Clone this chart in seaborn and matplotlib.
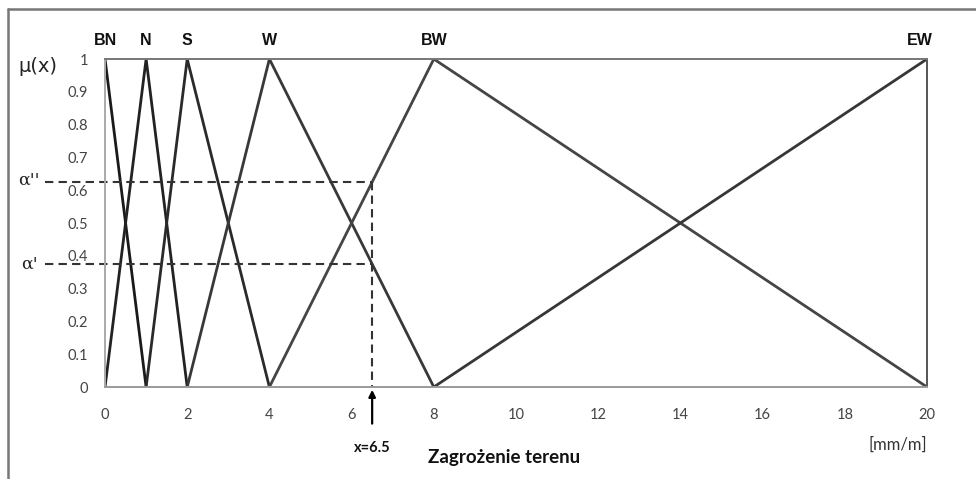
import pandas as pd
import matplotlib.pyplot as plt
import seaborn as sns
from matplotlib.lines import Line2D

# Membership functions (breakpoints, x in mm/m)
sets = ['BN', 'N', 'S', 'W', 'BW', 'EW']
bn_x = [0, 1]
bn_mu = [1, 0]
n_x = [0, 1, 2]
n_mu = [0, 1, 0]
s_x = [1, 2, 4]
s_mu = [0, 1, 0]
w_x = [2, 4, 8]
w_mu = [0, 1, 0]
bw_x = [4, 8, 20]
bw_mu = [0, 1, 0]
ew_x = [8, 20]
ew_mu = [0, 1]
peaks = [0, 1, 2, 4, 8, 20]

x_read = 6.5
alpha_hi = 0.625
alpha_lo = 0.375

xticks = list(range(0, 21, 2))
yticks = [i / 10 for i in range(11)]
ytick_labels = ['0', '0.1', '0.2', '0.3', '0.4', '0.5', '0.6', '0.7', '0.8', '0.9', '1']

# long-form table for seaborn
rows = []
for name, xs, ms in zip(sets, [bn_x, n_x, s_x, w_x, bw_x, ew_x],
                        [bn_mu, n_mu, s_mu, w_mu, bw_mu, ew_mu]):
    for i, (xv, mv) in enumerate(zip(xs, ms)):
        rows.append({'set': name, 'order': i, 'x': xv, 'mu': mv})
df = pd.DataFrame(rows)

palette = {'BN': '#1a1a1a', 'N': '#222222', 'S': '#2a2a2a',
           'W': '#383838', 'BW': '#454545', 'EW': '#363636'}

sns.set_style('white')
fig = plt.figure(figsize=(9.76, 4.79), dpi=100)
ax = fig.add_axes([0.1076, 0.192, 0.8422, 0.6848])

sns.lineplot(data=df, x='x', y='mu', hue='set', units='set', estimator=None,
             sort=False, palette=palette, linewidth=2.0, legend=False, ax=ax)

ax.set_xlim(0, 20)
ax.set_ylim(0, 1)
ax.set_xticks(xticks)
ax.set_yticks(yticks)
ax.set_yticklabels(ytick_labels)
ax.set_xlabel('')
ax.set_ylabel('')
ax.tick_params(axis='both', direction='out', length=4, width=0.8, color='#999999',
               labelsize=10.5, labelcolor='#444444')
ax.tick_params(axis='x', pad=11)
ax.tick_params(axis='y', pad=8)
for lab in ax.get_xticklabels() + ax.get_yticklabels():
    lab.set_family('Lato')

ax.spines['left'].set_color('#aaaaaa')
ax.spines['bottom'].set_color('#999999')
ax.spines['top'].set_color('#777777')
ax.spines['right'].set_color('#555555')
for sp in ax.spines.values():
    sp.set_linewidth(1.4)

# dashed guide lines (start left of the axis, in data units)
ax.plot([-1.46, x_read], [alpha_hi, alpha_hi], ls=(0, (4, 2.5)), color='#333333',
        lw=1.5, clip_on=False)
ax.plot([-1.46, x_read], [alpha_lo, alpha_lo], ls=(0, (4, 2.5)), color='#333333',
        lw=1.5, clip_on=False)
ax.plot([x_read, x_read], [alpha_hi, 0], ls=(0, (4, 2.5)), color='#333333', lw=1.5)

# arrow at x = 6.5
ax.annotate('', xy=(x_read, 0), xytext=(x_read, -0.12), xycoords='data',
            arrowprops=dict(arrowstyle='-|>', color='black', lw=1.6,
                            mutation_scale=10), annotation_clip=False)

# set names above the plot
for name, px in zip(sets, peaks):
    dx = -0.18 if name == 'EW' else 0
    ax.text(px + dx, 1.034, name, ha='center', va='bottom', fontsize=11.5,
            fontweight='bold', family='Liberation Sans', color='#111111')

ax.text(-2.12, 0.976, 'μ(x)', ha='left', va='center', fontsize=14, color='#222222',
        family='DejaVu Sans', clip_on=False)
ax.text(-2.12, alpha_hi + 0.005, "α''", ha='left', va='center', fontsize=12.5,
        color='#222222', family='DejaVu Serif', clip_on=False)
ax.text(-2.05, alpha_lo + 0.0, "α'", ha='left', va='center', fontsize=12.5,
        color='#222222', family='DejaVu Serif', clip_on=False)

ax.text(x_read, -0.185, 'x=6.5', ha='center', va='center', fontsize=10.5,
        fontweight='bold', family='Lato', color='#111111')
ax.text(7.85, -0.215, 'Zagrożenie terenu', ha='left', va='center', fontsize=13.5,
        fontweight='bold', family='Lato', color='#111111')
ax.text(20, -0.175, '[mm/m]', ha='right', va='center', fontsize=12,
        family='Lato', color='#333333')

# outer frame (top and left edge only)
fig.add_artist(Line2D([8 / 976, 1], [1 - 9 / 479, 1 - 9 / 479], color='#777777',
                      lw=1.8, transform=fig.transFigure))
fig.add_artist(Line2D([8 / 976, 8 / 976], [0, 1 - 9 / 479], color='#777777',
                      lw=1.8, transform=fig.transFigure))

plt.savefig('out.png', dpi=100)
